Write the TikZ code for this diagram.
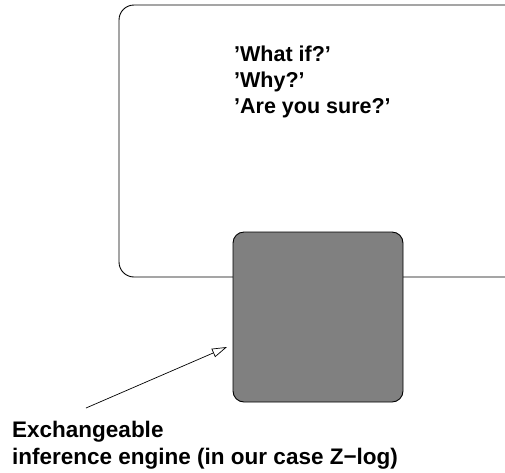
\documentclass[tikz,border=0pt]{standalone}
\usepackage{fontspec}
\setmainfont{Liberation Sans}
\usetikzlibrary{arrows.meta}
\begin{document}
\begin{tikzpicture}[x=1pt,y=-1pt,
  frame/.style={draw=black,line width=0.9pt,rounded corners=15pt},
  engine/.style={draw=black,line width=0.9pt,fill=black!50,rounded corners=11pt,
    minimum width=170pt,minimum height=170pt,inner sep=0pt},
  question/.style={anchor=base west,inner sep=0pt,font=\fontsize{21.5}{26}\selectfont\bfseries},
  caption/.style={anchor=base west,inner sep=0pt,font=\fontsize{22.5}{27}\selectfont\bfseries},
  pointer/.style={line width=0.7pt,-{Triangle[open,length=15pt,width=9pt]}}]
\useasboundingbox (0,0) rectangle (505,472);
% outer dialogue frame, running off the right edge
\draw[frame] (530,277) -- (119,277) -- (119,5) -- (530,5);
% question texts
\node[question] (q1) at (234,61.5) {'What if?'};
\node[question] (q2) at (234,87.5) {'Why?'};
\node[question] (q3) at (234,113.5) {'Are you sure?'};
% inference engine block
\node[engine] (eng) at (318,317) {};
% caption and pointer
\node[caption] (c1) at (12,437) {Exchangeable};
\node[caption] (c2) at (12,464) {inference engine (in our case Z−log)};
\coordinate (tail) at (86,408);
\coordinate (tip) at (227,347);
\draw[pointer] (tail) -- (tip);
\end{tikzpicture}
\end{document}
